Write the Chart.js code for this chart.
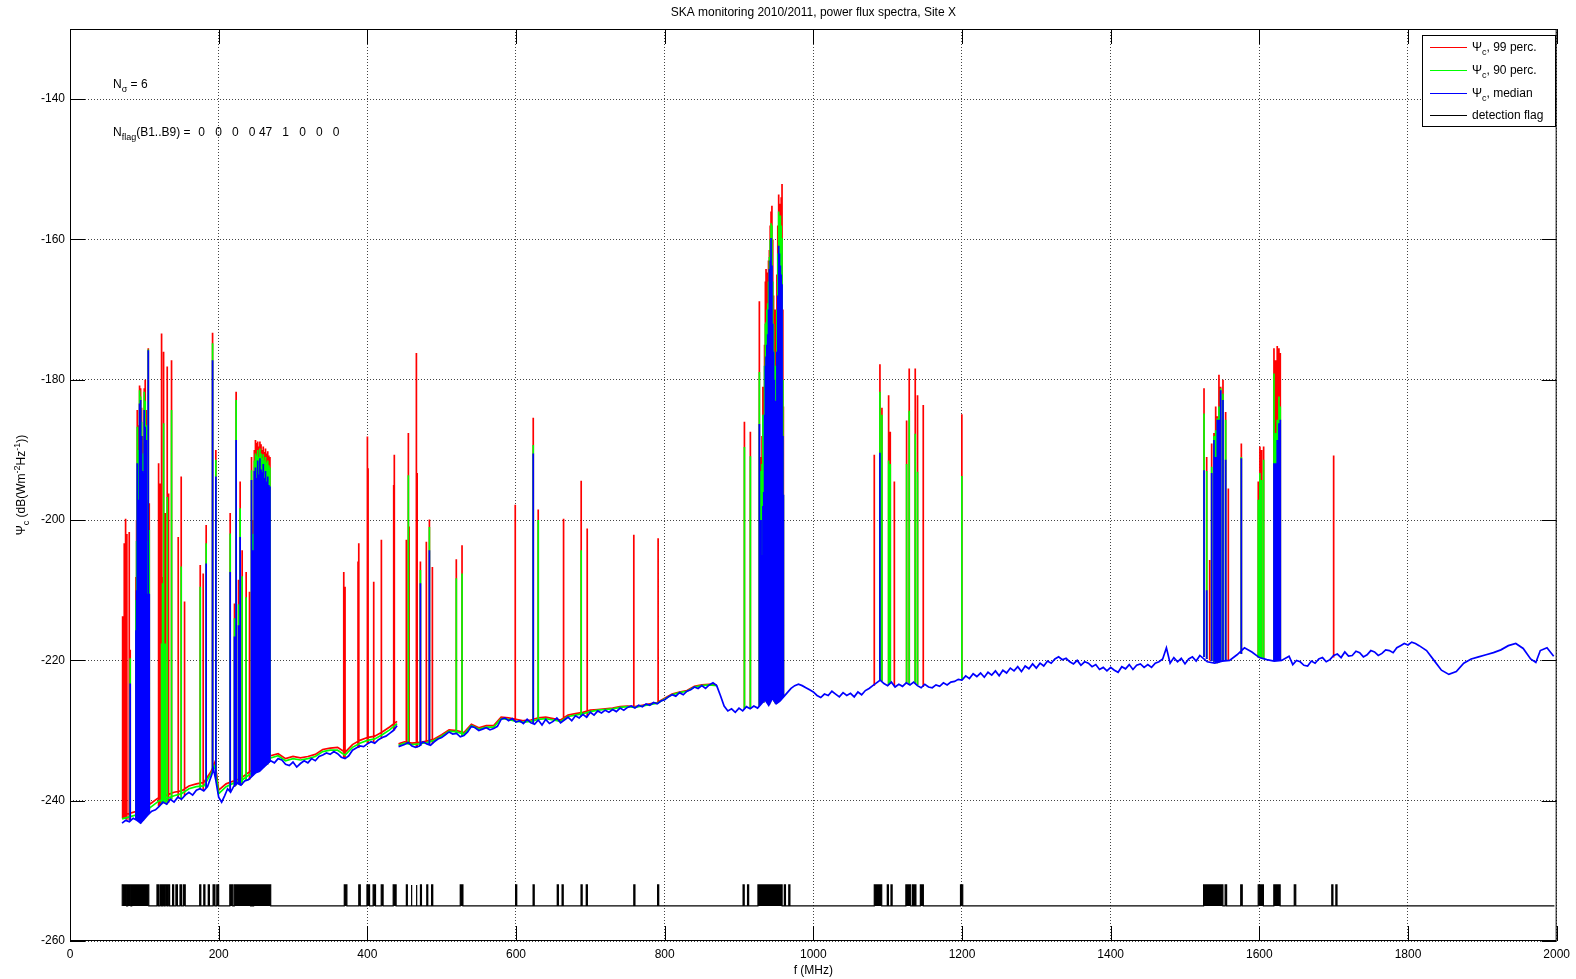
<!DOCTYPE html>
<html lang="en">
<head>
<meta charset="UTF-8">
<title>SKA monitoring 2010/2011, power flux spectra, Site X</title>
<script src="https://cdn.jsdelivr.net/npm/chart.js"></script>
<style>
  html, body { margin: 0; padding: 0; background: #fff; }
  #wrap { width: 1576px; height: 979px; }
</style>
</head>
<body>
<div id="wrap"><canvas id="spectra" width="1576" height="979"></canvas></div>
<script>
// ---------- values (f in MHz, levels in dB(W m^-2 Hz^-1)) ----------
const xTicks = [0, 200, 400, 600, 800, 1000, 1200, 1400, 1600, 1800, 2000];
const yTicks = [-260, -240, -220, -200, -180, -160, -140];

// median spectrum (blue); null = break in the trace
const medFreq = [70, 75, 80, 85, 90, 95, 100, 105, 110, 115, 120, 125, 130, 135, 140, 145, 150, 155, 160, 165,
  170, 175, 180, 185, 190, 193, 196, 200, 204, 208, 212, 216, 220, 225, 230, 235, 240, 245, 250, 255,
  260, 265, 270, 275, 280, 285, 290, 295, 300, 305, 310, 315, 320, 325, 330, 335, 340, 345, 350, 355,
  360, 365, 370, 375, 380, 385, 390, 395, 400, 405, 410, 415, 420, 425, 430, 435, 440, 441, 442, 450,
  455, 460, 465, 470, 475, 480, 485, 490, 495, 500, 505, 510, 515, 520, 525, 530, 535, 540, 545, 550,
  555, 560, 565, 570, 575, 580, 585, 590, 595, 600, 605, 610, 615, 620, 625, 630, 635, 640, 645, 650,
  655, 660, 665, 670, 675, 680, 685, 690, 695, 700, 705, 710, 715, 720, 725, 730, 735, 740, 745, 750,
  755, 760, 765, 770, 775, 780, 785, 790, 795, 800, 805, 810, 815, 820, 825, 830, 835, 840, 845, 850,
  855, 860, 865, 870, 875, 880, 885, 890, 895, 900, 905, 910, 915, 920, 925, 930, 935, 940, 945, 950,
  955, 960, 965, 970, 975, 980, 985, 990, 995, 1000, 1005, 1010, 1015, 1020, 1025, 1030, 1035, 1040, 1045, 1050,
  1055, 1060, 1065, 1070, 1075, 1080, 1085, 1090, 1095, 1100, 1105, 1110, 1115, 1120, 1125, 1130, 1135, 1140, 1145, 1150,
  1155, 1160, 1165, 1170, 1175, 1180, 1185, 1190, 1195, 1200, 1205, 1210, 1215, 1220, 1225, 1230, 1235, 1240, 1245, 1250,
  1255, 1260, 1265, 1270, 1275, 1280, 1285, 1290, 1295, 1300, 1305, 1310, 1315, 1320, 1325, 1330, 1335, 1340, 1345, 1350,
  1355, 1360, 1365, 1370, 1375, 1380, 1385, 1390, 1395, 1400, 1405, 1410, 1415, 1420, 1425, 1430, 1435, 1440, 1445, 1450,
  1455, 1460, 1465, 1470, 1475, 1480, 1485, 1490, 1495, 1500, 1505, 1510, 1515, 1520, 1530, 1540, 1550, 1560, 1570, 1580,
  1590, 1600, 1610, 1620, 1630, 1640, 1645, 1650, 1655, 1660, 1665, 1670, 1675, 1680, 1685, 1690, 1695, 1700, 1705, 1710,
  1715, 1720, 1725, 1730, 1735, 1740, 1745, 1750, 1755, 1760, 1765, 1770, 1775, 1780, 1785, 1790, 1795, 1800, 1805, 1810,
  1815, 1825, 1835, 1845, 1855, 1865, 1875, 1885, 1895, 1905, 1915, 1925, 1935, 1945, 1955, 1965, 1972, 1978, 1987, 1996];
const medVal = [-243.2, -242.8, -243, -242.5, -242.8, -243.2, -242.6, -242, -241.5, -241.3, -240.8, -240.2, -240.5, -239.8, -240.2, -239.5, -239.8, -239.2, -238.8, -239.2,
  -238.5, -238.3, -238.6, -238, -236.5, -235.5, -237, -239.5, -240.2, -239.3, -238.3, -238.8, -238, -237.5, -237.8, -237.2, -237, -236.5, -236, -235.8,
  -235.3, -234.8, -234.3, -234.6, -234, -234.2, -234.8, -235, -234.5, -235.2, -234.7, -234.3, -234.6, -234, -234.3, -233.7, -233.5, -233.2, -233.4, -233,
  -233.3, -233.8, -234, -233.6, -232.8, -232.5, -232.2, -232.3, -231.9, -231.6, -231.8, -231.3, -231, -230.8, -230.4, -230, -229.3, null, -232.3, -232,
  -231.7, -232.2, -232.4, -232.2, -231.6, -231.9, -232.1, -231.6, -231.2, -231, -230.6, -230.2, -230.5, -230.4, -230.9, -230.7, -230.2, -229.4, -229.6, -230,
  -229.8, -229.6, -229.9, -229.7, -229.4, -228.4, -228.2, -228.6, -228.3, -228.8, -228.6, -229, -228.4, -228.9, -229.1, -228.5, -229.2, -228.4, -229, -228.7,
  -228.2, -228.9, -228.5, -228.1, -228.6, -227.9, -228.2, -227.7, -228.1, -227.4, -227.8, -227.2, -227.5, -227.1, -227.4, -227, -227.3, -226.8, -227.1, -226.7,
  -226.5, -226.8, -226.4, -226.6, -226.2, -226.4, -226, -226.2, -225.8, -225.6, -225.2, -224.9, -225.1, -224.6, -224.9, -224.4, -224.2, -223.8, -224, -223.6,
  -224, -223.5, -223.2, -223.6, -225, -226.5, -227.2, -226.9, -227.4, -226.8, -227.2, -226.6, -226.9, -226.5, -226.8, -226.2, -225.6, -226.4, -225.4, -226.2,
  -225.8, -225.2, -224.6, -224, -223.6, -223.4, -223.6, -223.9, -224.2, -224.5, -225, -225.3, -224.8, -225, -224.4, -224.8, -225.2, -224.6, -225, -224.7,
  -225.2, -224.5, -224.9, -224.3, -224, -223.6, -223.2, -222.8, -223.3, -223.6, -223.1, -223.8, -223.4, -223.7, -223.2, -223.5, -223.1, -223.6, -223.9, -223.4,
  -223.8, -223.9, -223.5, -223.7, -223.2, -223.5, -223.1, -223, -222.7, -222.8, -222.2, -222.6, -221.9, -222.3, -221.8, -222.4, -221.7, -222.1, -221.5, -222.2,
  -221.4, -221.8, -221.1, -221.5, -220.9, -221.6, -220.8, -221.2, -220.5, -221.1, -220.4, -220.8, -220.1, -220.4, -219.8, -219.5, -219.9, -219.7, -220.2, -220.5,
  -220, -220.7, -220.2, -220.4, -220.9, -220.6, -221.3, -221, -221.5, -221, -221.4, -221.7, -220.9, -221.2, -220.6, -221.3, -220.7, -220.5, -221, -220.6,
  -221, -220.4, -220.2, -219.8, -218.2, -220.4, -219.6, -220.2, -219.7, -220.5, -219.8, -219.5, -220.1, -219.3, -220.2, -220.4, -220.1, -220, -219.2, -218.2,
  -218.8, -219.6, -219.9, -220.1, -220, -219.4, -220.6, -220, -220.2, -220.7, -220.8, -220.1, -220.4, -219.8, -219.6, -220.2, -219.9, -219.3, -219.1, -219.6,
  -218.8, -219.4, -219.3, -218.7, -218.9, -219.5, -219.2, -218.6, -218.8, -219.3, -219, -218.5, -218.6, -218.9, -218.2, -217.9, -217.6, -217.8, -217.4, -217.6,
  -217.9, -218.6, -220, -221.4, -222, -221.6, -220.4, -219.8, -219.5, -219.2, -218.9, -218.5, -217.9, -217.6, -218.3, -219.8, -220.3, -218.6, -218.2, -219.4];

// 99 / 90 percentile background where it sits visibly above the median
const pctFreq = [70, 80, 90, 100, 110, 120, 130, 140, 150, 160, 170, 180, 190, 195, 200, 210, 220, 230, 240, 250,
  260, 270, 280, 290, 300, 310, 320, 330, 340, 350, 360, 370, 380, 390, 400, 410, 420, 430, 440, 441,
  442, 450, 460, 470, 480, 490, 500, 510, 520, 530, 540, 550, 560, 570, 580, 590, 600, 610, 620, 630,
  640, 650, 660, 670, 680, 690, 700, 710, 720, 730, 740, 750, 760, 770, 780, 790, 800, 810, 820, 830,
  840, 850, 860, 870];
const p99Val = [-242.2, -241.8, -241.5, -241, -240.3, -239.5, -239.2, -238.8, -238.6, -237.9, -237.6, -237.4, -235.8, -234.5, -238.5, -237.6, -237.2, -236.8, -236, -235.2,
  -234.5, -233.6, -233.3, -234, -233.7, -233.9, -233.7, -233.4, -232.7, -232.5, -232.4, -233.1, -232, -231.4, -231, -230.8, -230.2, -229.5, -228.7, null,
  -231.9, -231.6, -231.8, -231.7, -231.5, -231.2, -230.6, -229.9, -230, -230.3, -229.1, -229.6, -229.3, -229.3, -228.1, -228.2, -228.4, -228.6, -228.5, -228.2,
  -228.1, -228.3, -228.5, -227.8, -227.6, -227.4, -227.1, -227, -226.9, -226.8, -226.6, -226.5, -226.6, -226.4, -226.2, -226, -225.4, -224.8, -224.5, -224.3,
  -223.7, -223.5, -223.4, -223.5];
const p90Val = [-242.6, -242.3, -242, -241.6, -240.8, -240, -239.7, -239.3, -239, -238.3, -238, -237.9, -236.1, -235, -239, -238, -237.5, -237.2, -236.4, -235.5,
  -234.8, -233.9, -233.6, -234.3, -234, -234.2, -234, -233.7, -233, -232.8, -232.8, -233.5, -232.4, -231.8, -231.4, -231.2, -230.6, -229.9, -229, null,
  -232.1, -231.8, -232, -231.9, -231.7, -231.4, -230.8, -230.1, -230.2, -230.5, -229.3, -229.8, -229.5, -229.5, -228.3, -228.4, -228.7, -228.8, -228.7, -228.4,
  -228.3, -228.5, -228.7, -228, -227.8, -227.6, -227.3, -227.1, -227, -226.9, -226.7, -226.6, -226.7, -226.5, -226.3, -226.1, -225.5, -224.9, -224.6, -224.4,
  -223.8, -223.6, -223.5, -223.6];

// narrow-band spikes: frequency, foot level, top level of each curve (null = no spike on that curve)
const spikeFreq = [70.8, 73, 74.8, 76.5, 79.7, 81, 88.7, 89.6, 90.5, 91.4, 92.3, 93.6, 94.4, 95, 96.3, 97.5, 98.6, 99.9, 101.2, 102.6,
  103.9, 105.3, 106.6, 119.2, 121, 123.2, 124.5, 125.9, 128.1, 130.8, 132.6, 136.6, 145.6, 149.6, 154.1, 175.2, 179.2, 183.2, 191.8, 196.2,
  215.5, 221.3, 223.5, 226.7, 228.9, 231.6, 237, 241.5, 244.2, 246.4, 248, 249.5, 251, 252.5, 254, 255.5, 257, 258.5, 260, 261.5,
  263, 264.5, 266, 267.5, 269, 368.3, 370, 387.5, 388.5, 400.1, 401, 408.6, 418.9, 435.5, 436.3, 452.5, 455.2, 456.2, 466, 467,
  471.4, 479.4, 483.5, 487.5, 519.7, 527.4, 599, 623.2, 629.9, 664, 687.7, 695.8, 758.5, 791.2, 907.3, 915.3, 927.4, 929.7, 931, 932.2,
  933.3, 934.4, 935.5, 936.4, 937.5, 938.6, 939.7, 940.9, 942, 943.1, 944.3, 945.4, 946.5, 947.6, 948.7, 949.8, 951, 952.2, 953.4, 954.5,
  955.7, 956.8, 957.9, 959, 959.7, 1082, 1089.6, 1092.3, 1101.3, 1103.5, 1109, 1125.5, 1129, 1137.1, 1140.2, 1147.9, 1199.8, 1525.6, 1529.2, 1533.2,
  1535.9, 1539, 1541.3, 1543.5, 1545.7, 1548, 1551.1, 1554.7, 1558.3, 1575.8, 1598.6, 1600.8, 1603.1, 1605.8, 1619.7, 1621.9, 1624.1, 1626.4, 1628.2, 1700];
const spikeFoot = [-242.5, -242.6, -242.6, -242.7, -242.8, -242.8, -242.6, -242.6, -242.7, -242.8, -242.8, -243, -243.1, -243.2, -243, -242.9, -242.8, -242.6, -242.4, -242.2,
  -242.1, -242, -241.8, -240.8, -240.7, -240.5, -240.4, -240.2, -240.3, -240.5, -240.3, -239.8, -239.5, -239.8, -239.3, -238.3, -238.5, -238.2, -236, -237,
  -238.6, -238, -237.8, -237.6, -237.7, -237.7, -237.2, -237, -236.6, -236.4, -236.1, -236, -235.9, -235.9, -235.8, -235.6, -235.5, -235.4, -235.3, -235.1,
  -235, -234.9, -234.8, -234.6, -234.4, -233.9, -234, -232.5, -232.5, -231.9, -231.9, -231.7, -231.2, -230, -230, -231.9, -231.7, -231.8, -232.4, -232.4,
  -232.2, -231.9, -232, -231.9, -230.4, -230.8, -228.8, -229, -228.5, -228.6, -228, -228.1, -226.7, -226.1, -226.9, -226.9, -226.5, -226.2, -226, -226,
  -226, -225.8, -225.7, -225.6, -225.8, -226, -226.2, -226.3, -226, -225.8, -225.6, -225.4, -225.6, -225.9, -226.1, -226.2, -226.1, -226, -225.9, -225.8,
  -225.7, -225.5, -225.3, -225.2, -225.2, -223.6, -222.8, -222.9, -223.5, -223.3, -223.7, -223.2, -223.4, -223.2, -223.5, -223.8, -222.8, -219.5, -219.8, -220,
  -220.1, -220.2, -220.3, -220.4, -220.3, -220.2, -220.1, -220, -220, -219.1, -219.6, -219.6, -219.7, -219.8, -220.1, -220.1, -220, -220, -220, -219.6];
const spike99 = [-213.7, -203.3, -199.8, -202, -201.7, -218.5, -208.1, -200, -184.3, -195, -186.5, -180.8, -192, -181.2, -184, -188, -189, -181.2, -180, -184.3,
  -197.1, -175.5, -197.6, -191.9, -194.8, -173.4, -208.1, -176, -199, -178.1, -196.2, -177.2, -202.4, -193.8, -211.6, -206.4, -207.6, -200.7, -173.3, -190,
  -199, -211.9, -181.7, -208.5, -194.5, -204.3, -207.4, -210.2, -191, -200, -190, -188.6, -189, -188.8, -189.5, -188.8, -189.2, -190, -189.5, -190.3,
  -189.8, -190.5, -190.2, -190.8, -191, -207.4, -209.5, -205.9, -203.3, -188.1, -192.6, -208.8, -202.8, -195, -190.7, -202.8, -187.6, -200.9, -176.2, -193.3,
  -205.9, -203.1, -199.9, -206.7, -205.6, -203.6, -197.8, -185.4, -198.5, -199.8, -194.4, -201.2, -202.1, -202.6, -186, -187.4, -168.8, -191, -188, -181,
  -182.8, -175, -166, -164.2, -166, -164.7, -163, -161.5, -158, -156, -155.2, -160, -168, -173.5, -170, -174.6, -165, -158, -153.6, -156,
  -154.9, -154, -152.1, -170, -183.8, -190.7, -177.8, -184, -182.2, -187.4, -194.5, -185.8, -178.4, -178.4, -182.2, -183.6, -184.9, -181.2, -191, -205.7,
  -189.1, -187.6, -183.8, -185.2, -179.3, -181, -180, -184.6, -195.5, -189.1, -194.5, -189.5, -190, -189.5, -175.5, -177.2, -175.2, -175.5, -176.2, -190.8];
const spike90 = [null, null, null, null, null, -219.7, -211.4, -203, -186.7, -197, -190, -181.5, -194, -182.4, -186, -190.5, -191, -181.7, -183, -186.5,
  -203, -175.7, -201.4, null, null, -217.6, -209, -186.2, -217.6, -196.7, null, -184.3, null, -206.6, null, -209.5, null, -203.3, -174.8, -191.4,
  -201.9, -214, -182.9, -212, -198.3, -208, -211, null, -192.9, -202, -191.5, -190.5, -190.8, -190, -191, -189.8, -190.5, -191.2, -190.6, -191.5,
  -191, -191.8, -191.5, -192.2, -192.5, null, null, null, null, null, null, null, null, null, null, null, -193.6, null, null, null,
  -207.1, null, -201, null, -208.3, -207.6, null, -189.3, -200, null, -204.3, null, null, null, -189.6, -190.9, -178.9, -193, -192, -185,
  -186, -178, -172, -171.8, -170, -169.1, -166, -162.5, -160, -157.7, -158, -166, -172, -176, -178, -180, -170, -162, -156, -157.5,
  -156.6, -158, -159.8, -180, -196.4, null, -181.7, -185, -191.5, -192, null, -192, -184.4, -187.7, -193.1, null, -193.7, -184.8, -193, null,
  -192.4, -188, -187.2, -185.5, -183.8, -181.2, -182, -185.7, null, -191, -197.1, -193.3, -194.3, -191.4, -179.1, -187.6, -185.7, -182.4, -183.8, null];
const spikeMed = [null, null, null, null, null, -223.3, -215.7, -210, -191.9, -200, -197.1, -183.4, -196, -182.9, -188, -193, -193.3, -184.3, -186.7, -188.6,
  -210.5, -175.8, -210.5, null, null, null, null, null, null, null, null, null, null, null, null, null, null, -206.2, -177.2, -193.8,
  -207.4, -216.6, -188.6, -215, -202.4, null, null, null, -194.3, -204.3, -193, -192.5, -194, -191.5, -193.5, -191.2, -192.8, -193.2, -192, -194,
  -193, -194.5, -193.8, -195, -195.2, null, null, null, null, null, null, null, null, null, null, null, null, null, null, null,
  -209, null, -204.3, null, null, null, null, -190.5, null, null, null, null, null, null, null, null, -186.3, -200, -205, -198,
  -196, -185, -178, -176.7, -175, -173.5, -170, -164.2, -163, -159.8, -163.7, -172, -176, -180, -183, -185.5, -176, -168, -160.9, -162,
  -163.7, -165, -166.4, -188, -196.4, null, -190.4, null, null, null, null, null, null, null, null, null, null, -192.9, -210, null,
  -193.3, -188.6, -191, -185.7, -185.7, -181.5, -182.9, -191.4, null, -191.2, null, null, null, null, -191.9, -191.9, -188.6, -186.2, -185.7, null];

// detection flag: raised intervals (MHz), trace extent and the two levels
const flagStart = [70.3, 77.5, 83, 117, 121, 124.5, 128, 132, 138, 142.5, 148, 152.5, 174.5, 180, 186, 192.5, 197.5, 215, 221, 224.5,
  234, 238, 244.5, 247, 369, 388.5, 399.5, 407.8, 418.7, 434.8, 452.5, 458.8, 465.5, 471.5, 480, 486.5, 525, 527.3, 599.5, 623,
  655.5, 662, 687.5, 694.5, 758.5, 790.5, 905.5, 911.5, 925.5, 961, 967, 1082, 1099.5, 1104.5, 1124.5, 1133.5, 1136.5, 1144, 1198, 1525,
  1554, 1575, 1598.5, 1619.5, 1647, 1697.5, 1703];
const flagEnd = [76.2, 82, 106, 119, 123, 126.5, 130.5, 134, 139.5, 144.5, 150, 155, 176, 181.5, 187.5, 195, 200, 219, 223.5, 233,
  237, 243, 246, 270, 372.5, 390.5, 403, 411, 421.2, 438.7, 453.8, 460, 466.8, 472.8, 481.3, 488, 526.3, 528.6, 601, 624.5,
  657, 663.5, 689, 696, 760, 792, 907, 913, 958, 962.5, 968.5, 1092, 1101, 1106, 1131, 1135, 1138, 1148, 1201, 1551,
  1556, 1577, 1605.5, 1628, 1649, 1699, 1704.5];
const flagSpan = [70.3, 1997];
const flagLevel = [-255, -252];

const nSigma = 6;
const nFlag = [0, 0, 0, 0, 47, 1, 0, 0, 0];

// ---------- build the datasets ----------
const FONT = '"Liberation Sans", Arial, sans-serif';

function trace(freqs, vals) {
  return freqs.map((f, i) => ({x: f, y: vals[i]}));
}

// each spike is a vertical segment foot -> top, separated by gaps
function spikes(tops) {
  const pts = [];
  spikeFreq.forEach((f, i) => {
    if (tops[i] === null) return;
    pts.push({x: f, y: null}, {x: f, y: spikeFoot[i]}, {x: f, y: tops[i]});
  });
  return pts;
}

const flagPts = [{x: flagSpan[0], y: flagLevel[0]}];
flagStart.forEach((a, i) => {
  flagPts.push({x: a, y: flagLevel[0]}, {x: a, y: flagLevel[1]},
               {x: flagEnd[i], y: flagLevel[1]}, {x: flagEnd[i], y: flagLevel[0]});
});
flagPts.push({x: flagSpan[1], y: flagLevel[0]});

const series = [
  {label: 'Ψc, 99 perc.', color: '#ff0000', data: trace(pctFreq, p99Val).concat(spikes(spike99)), order: 3},
  {label: 'Ψc, 90 perc.', color: '#00ff00', data: trace(pctFreq, p90Val).concat(spikes(spike90)), order: 2},
  {label: 'Ψc, median',   color: '#0000ff', data: trace(medFreq, medVal).concat(spikes(spikeMed)), order: 1}
];

const datasets = series.map(s => ({
  label: s.label,
  data: s.data,
  borderColor: s.color,
  backgroundColor: s.color,
  borderWidth: 1.7,
  pointRadius: 0,
  tension: 0,
  spanGaps: false,
  order: s.order
}));
datasets.push({
  label: 'detection flag',
  data: flagPts,
  borderColor: '#000',
  backgroundColor: '#000',
  borderWidth: 1.2,
  pointRadius: 0,
  tension: 0,
  fill: {value: flagLevel[0]},
  order: 0
});

// ---------- text helpers ----------
// parts: [text, kind] with kind undefined | 'sub' | 'sup'
function richWidth(ctx, parts, size) {
  let w = 0;
  parts.forEach(([t, k]) => {
    ctx.font = (k ? Math.round(size * 0.75) : size) + 'px ' + FONT;
    w += ctx.measureText(t).width;
  });
  return w;
}
function richText(ctx, parts, x, y, size, align) {
  let cx = align === 'center' ? x - richWidth(ctx, parts, size) / 2 : x;
  parts.forEach(([t, k]) => {
    ctx.font = (k ? Math.round(size * 0.75) : size) + 'px ' + FONT;
    const dy = k === 'sub' ? size * 0.35 : k === 'sup' ? -size * 0.4 : 0;
    ctx.fillText(t, cx, y + dy);
    cx += ctx.measureText(t).width;
  });
  return cx;
}

const TICK_LEN = 15;

// MATLAB-like box: inward ticks on all four sides and a solid frame
const boxPlugin = {
  id: 'box',
  afterDatasetsDraw(chart) {
    const {ctx, chartArea: a, scales: {x, y}} = chart;
    ctx.save();
    ctx.strokeStyle = '#000';
    ctx.lineWidth = 1;
    ctx.beginPath();
    xTicks.forEach(v => {
      const px = Math.round(x.getPixelForValue(v)) + 0.5;
      ctx.moveTo(px, a.bottom); ctx.lineTo(px, a.bottom - TICK_LEN);
      ctx.moveTo(px, a.top); ctx.lineTo(px, a.top + TICK_LEN);
    });
    yTicks.forEach(v => {
      const py = Math.round(y.getPixelForValue(v)) + 0.5;
      ctx.moveTo(a.left, py); ctx.lineTo(a.left + TICK_LEN, py);
      ctx.moveTo(a.right, py); ctx.lineTo(a.right - TICK_LEN, py);
    });
    ctx.stroke();
    ctx.strokeRect(a.left + 0.5, a.top + 0.5, a.right - a.left - 1, a.bottom - a.top - 1);
    ctx.restore();
  }
};

// title, axis labels, annotations and legend
const textPlugin = {
  id: 'texts',
  afterDraw(chart) {
    const {ctx, chartArea: a} = chart;
    const cx = (a.left + a.right) / 2;
    ctx.save();
    ctx.fillStyle = '#000';
    ctx.textBaseline = 'alphabetic';

    richText(ctx, [['SKA monitoring 2010/2011, power flux spectra, Site X']], cx, 16, 12, 'center');
    richText(ctx, [['f (MHz)']], cx, 974, 12, 'center');

    ctx.save();
    ctx.translate(25, (a.top + a.bottom) / 2);
    ctx.rotate(-Math.PI / 2);
    richText(ctx, [['Ψ'], ['c', 'sub'], [' (dB(Wm'], ['-2', 'sup'], ['Hz'], ['-1', 'sup'], ['))']], 0, 0, 12, 'center');
    ctx.restore();

    richText(ctx, [['N'], ['σ', 'sub'], [' = ' + nSigma]], 113, 87.5, 12, 'left');
    // flag counts per band, right-aligned in equal fields like num2str
    let ex = richText(ctx, [['N'], ['flag', 'sub'], ['(B1..B9) =']], 113, 136, 12, 'left');
    ctx.font = '12px ' + FONT;
    ctx.textAlign = 'right';
    nFlag.forEach((n, i) => ctx.fillText(String(n), ex + 14.5 + i * 16.8, 136));
    ctx.textAlign = 'left';

    // legend box
    const lx = 1422, ly = 35, lw = 133, lh = 91;
    ctx.fillStyle = '#fff';
    ctx.fillRect(lx, ly, lw, lh);
    ctx.strokeStyle = '#000';
    ctx.lineWidth = 1;
    ctx.strokeRect(lx + 0.5, ly + 0.5, lw, lh);
    const rows = [47, 70, 93, 115];
    const legendText = [
      [['Ψ'], ['c', 'sub'], [', 99 perc.']],
      [['Ψ'], ['c', 'sub'], [', 90 perc.']],
      [['Ψ'], ['c', 'sub'], [', median']],
      [['detection flag']]
    ];
    const legendColor = ['#ff0000', '#00ff00', '#0000ff', '#000'];
    rows.forEach((ry, i) => {
      ctx.strokeStyle = legendColor[i];
      ctx.beginPath();
      ctx.moveTo(1430, ry + 0.5);
      ctx.lineTo(1467, ry + 0.5);
      ctx.stroke();
      ctx.fillStyle = '#000';
      richText(ctx, legendText[i], 1472, ry + 4, 12, 'left');
    });
    ctx.restore();
  }
};

Chart.defaults.font.family = FONT;
Chart.defaults.font.size = 12;
Chart.defaults.color = '#000';

new Chart(document.getElementById('spectra'), {
  type: 'line',
  data: {datasets: datasets},
  options: {
    responsive: false,
    animation: false,
    events: [],
    layout: {padding: {top: 29, right: 18, bottom: 0, left: 0}},
    plugins: {legend: {display: false}, tooltip: {enabled: false}, title: {display: false}},
    scales: {
      x: {
        type: 'linear', min: 0, max: 2000,
        afterBuildTicks: s => { s.ticks = xTicks.map(v => ({value: v})); },
        afterFit: s => { s.height = 38; },
        ticks: {padding: 6, maxRotation: 0, autoSkip: false, callback: v => String(v)},
        grid: {color: '#444', lineWidth: 1, drawTicks: false, borderDash: [1, 2]},
        border: {display: false, dash: [1, 2]}
      },
      y: {
        type: 'linear', min: -260, max: -130,
        afterBuildTicks: s => { s.ticks = yTicks.map(v => ({value: v})); },
        afterFit: s => { s.width = 70; },
        ticks: {padding: 5, autoSkip: false, callback: v => String(v)},
        grid: {color: '#444', lineWidth: 1, drawTicks: false, borderDash: [1, 2]},
        border: {display: false, dash: [1, 2]}
      }
    }
  },
  plugins: [boxPlugin, textPlugin]
});
</script>
</body>
</html>
